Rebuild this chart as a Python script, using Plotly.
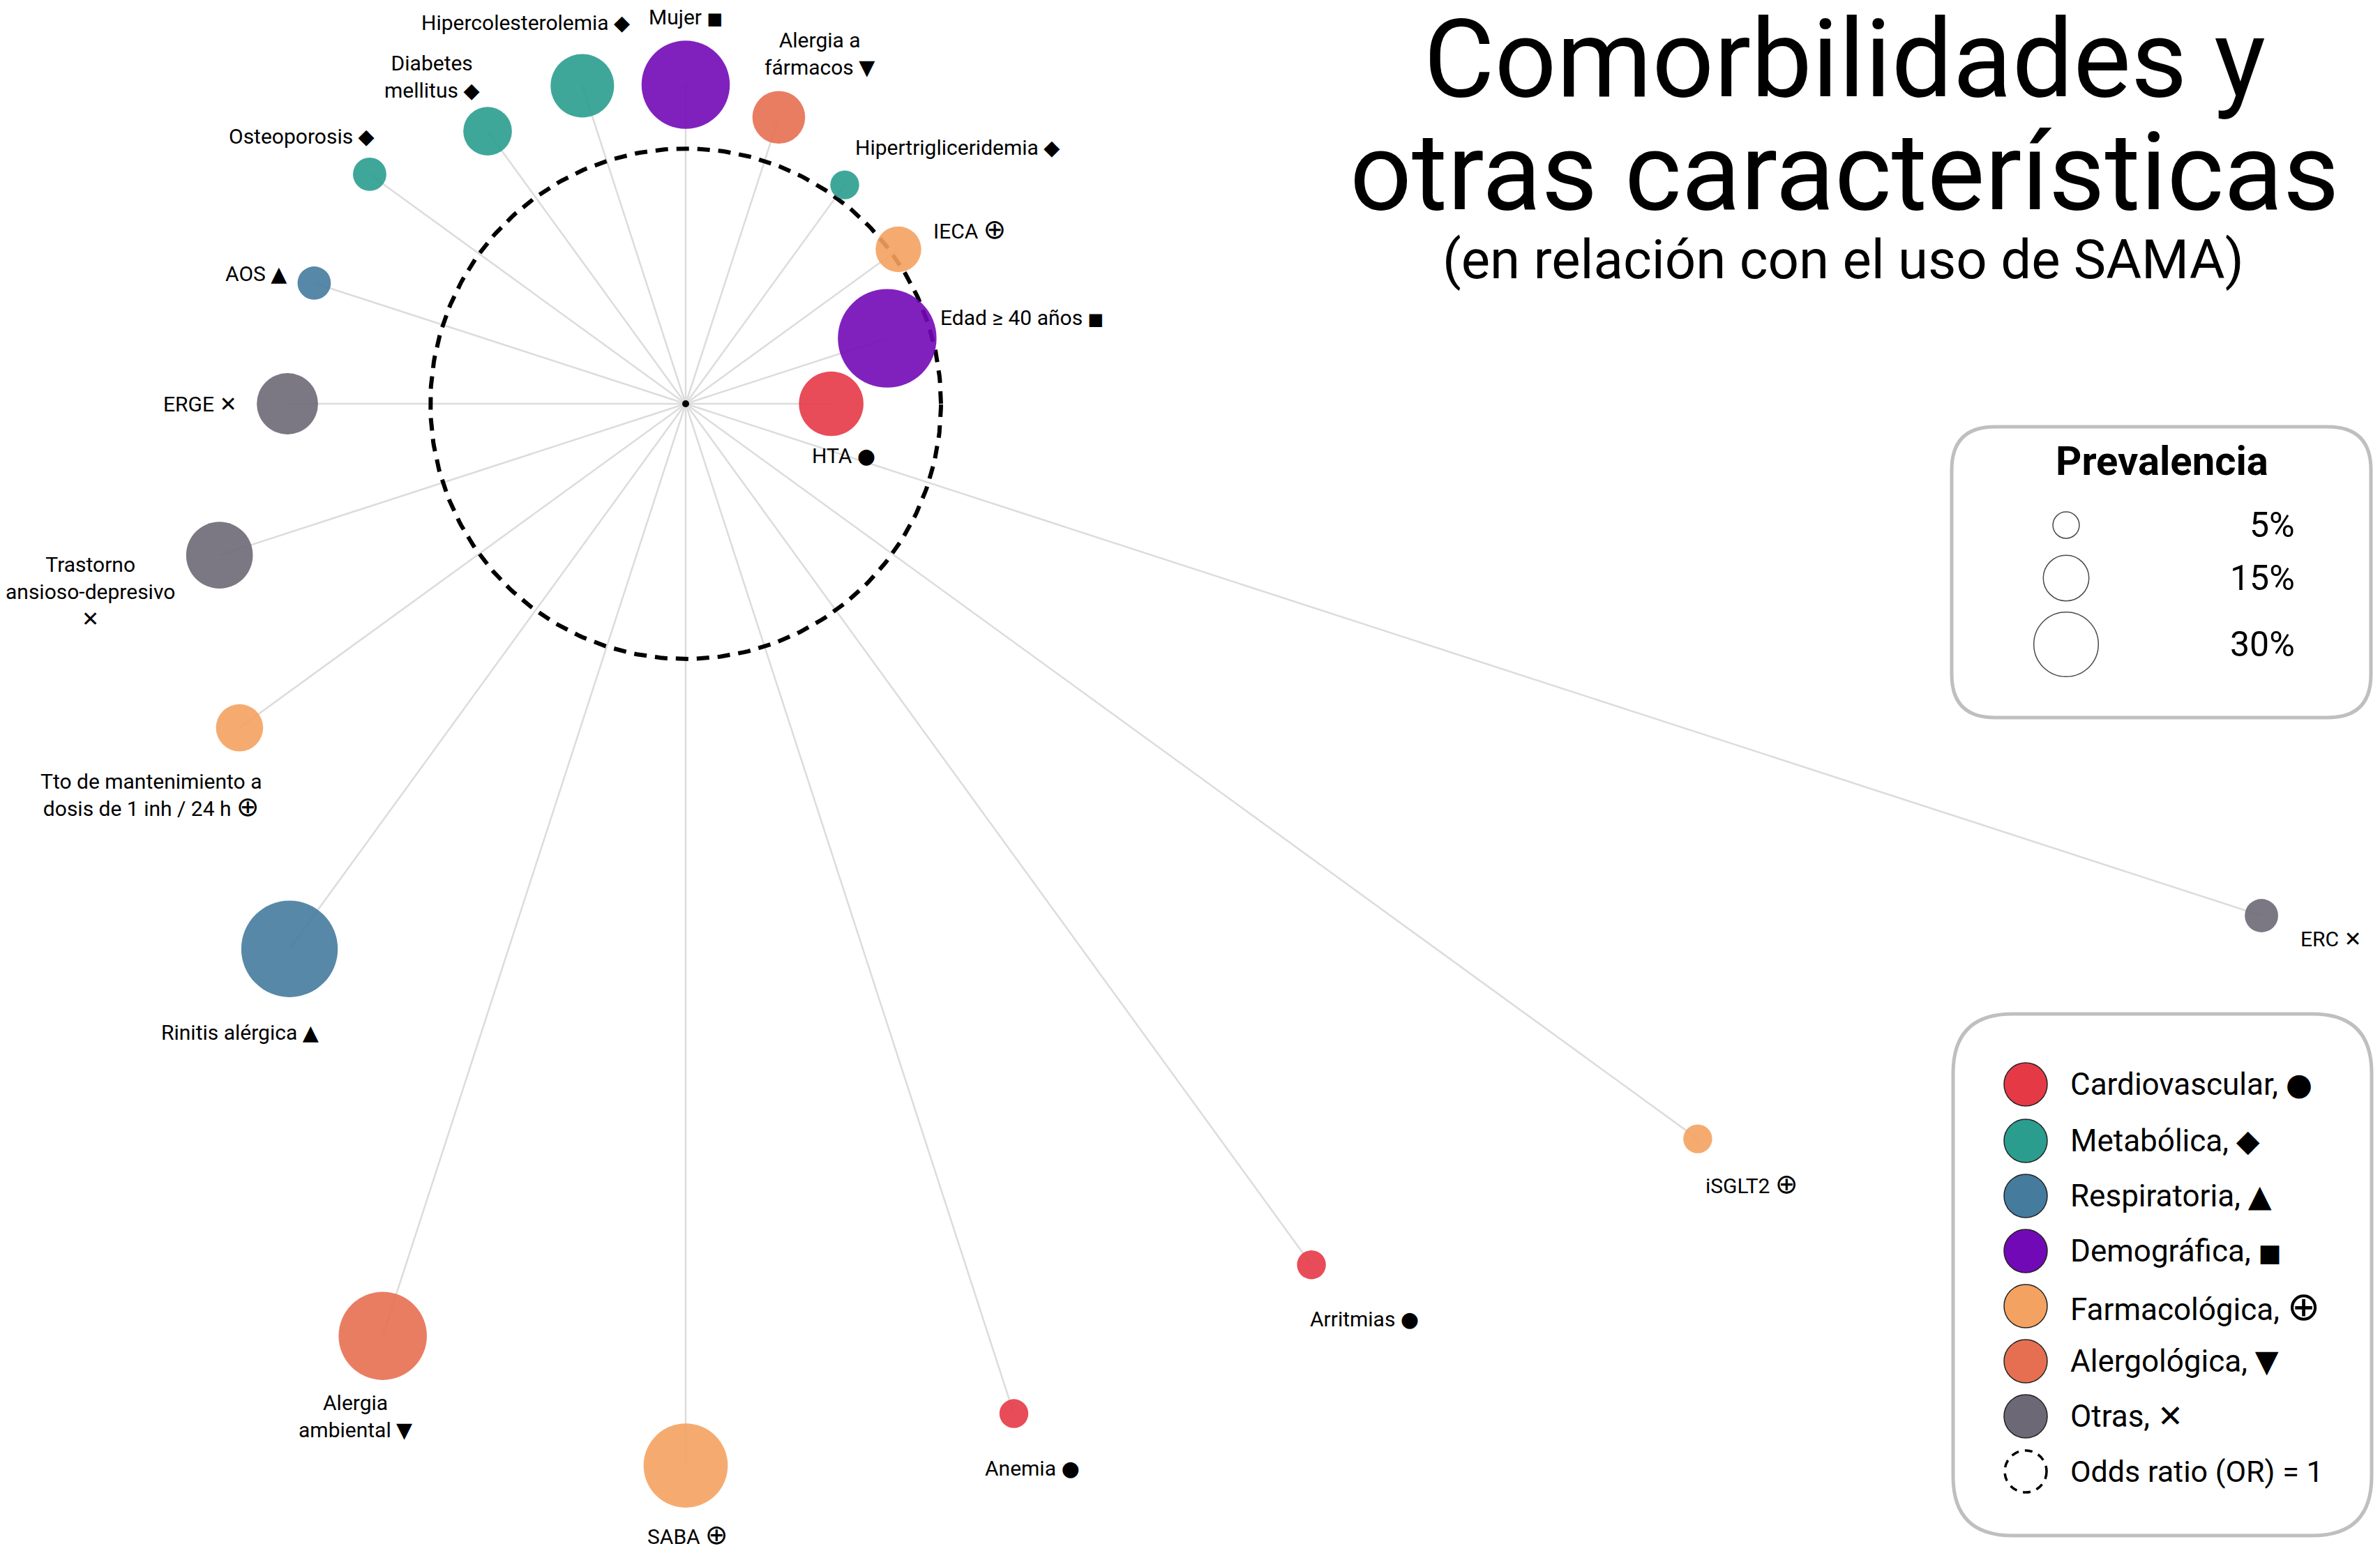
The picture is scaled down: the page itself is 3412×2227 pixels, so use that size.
import numpy as np
import plotly.graph_objects as go

# ---------------- data ----------------
variables = ["HTA", "Edad ≥ 40 años", "IECA", "Hipertrigliceridemia", "Alergia a fármacos",
             "Mujer", "Hipercolesterolemia", "Diabetes mellitus", "Osteoporosis", "AOS",
             "ERGE", "Trastorno ansioso-depresivo", "Tto de mantenimiento a dosis de 1 inh / 24 h",
             "Rinitis alérgica", "Alergia ambiental", "SABA", "Anemia", "Arritmias", "iSGLT2", "ERC"]
display_names = ["HTA", "Edad ≥ 40 años", "IECA", "Hipertrigliceridemia", "Alergia a<br>fármacos",
                 "Mujer", "Hipercolesterolemia", "Diabetes<br>mellitus", "Osteoporosis", "AOS",
                 "ERGE", "Trastorno<br>ansioso-depresivo<br>", "Tto de mantenimiento a<br>dosis de 1 inh / 24 h",
                 "Rinitis alérgica", "Alergia<br>ambiental", "SABA", "Anemia", "Arritmias", "iSGLT2", "ERC"]
category = ["Cardiovascular", "Demográfica", "Farmacológica", "Metabólica", "Alergológica",
            "Demográfica", "Metabólica", "Metabólica", "Metabólica", "Respiratoria",
            "Otras", "Otras", "Farmacológica", "Respiratoria", "Alergológica",
            "Farmacológica", "Cardiovascular", "Cardiovascular", "Farmacológica", "Otras"]
odds_ratio = [0.57, 0.83, 1.03, 1.06, 1.18, 1.25, 1.31, 1.32, 1.53, 1.53,
              1.56, 1.92, 2.16, 2.64, 3.84, 4.16, 4.16, 4.17, 4.90, 6.49]
prevalence = [30, 70, 15, 6, 20, 56, 29, 17, 8, 8,
              27, 32, 16, 67, 56, 51, 6, 6, 6, 8]

cat_names = ["Cardiovascular", "Metabólica", "Respiratoria", "Demográfica",
             "Farmacológica", "Alergológica", "Otras"]
cat_symbols = ["●", "◆", "▲", "■", "⊕", "▼", "✕"]
cat_colors = ["#E63946", "#2A9D8F", "#457B9D", "#7209B7", "#F4A261", "#E76F51", "#6D6875"]

size_legend_values = [5, 15, 30]
size_legend_labels = ["5%", "15%", "30%"]

# ---------------- layout constants (screen pixels) ----------------
SCREEN_W, SCREEN_H = 3412, 2227
PAGE_MARGIN = 8                       # default body margin of the html page
W, H = SCREEN_W - 2 * PAGE_MARGIN, SCREEN_H - 2 * PAGE_MARGIN
CX, CY = 983 - PAGE_MARGIN, 579 - PAGE_MARGIN   # chart centre in figure pixels
PX_PER_OR = 366            # pixels per odds-ratio unit
SIZEREF = 0.0070           # bubble area scale
FONT = "Roboto, 'DejaVu Sans', sans-serif"
LABEL_SIZE = 30
SYMBOL_SCALE = {"⊕": 1.3, "■": 0.8}   # visual size tweak of some glyphs


def sym_markup(sym, base):
    s = SYMBOL_SCALE.get(sym)
    if s is None:
        return sym
    return f'<span style="font-size:{round(base * s)}px">{sym}</span>'


# label placement: (xanchor, dx px, dy px downwards)
label_pos = {
    "HTA": ("left", -30, 74),
    "Edad ≥ 40 años": ("left", 74, -30),
    "IECA": ("left", 48, -28),
    "Hipertrigliceridemia": ("left", 13, -54),
    "Alergia a fármacos": ("center", 59, -91),
    "Mujer": ("center", 0, -97),
    "Hipercolesterolemia": ("right", 70, -91),
    "Diabetes mellitus": ("center", -80, -78),
    "Osteoporosis": ("right", 9, -54),
    "AOS": ("right", -37, -13),
    "ERGE": ("right", -70, 0),
    "Trastorno ansioso-depresivo": ("center", -185, 52),
    "Tto de mantenimiento a dosis de 1 inh / 24 h": ("center", -126, 98),
    "Rinitis alérgica": ("center", -71, 120),
    "Alergia ambiental": ("center", -39, 115),
    "SABA": ("center", 3, 99),
    "Anemia": ("left", -44, 78),
    "Arritmias": ("left", -4, 78),
    "iSGLT2": ("left", 9, 65),
    "ERC": ("left", 54, 33),
}

n = len(variables)
theta = np.deg2rad(np.arange(n) * 360.0 / n)
r = np.array(odds_ratio)
xs = r * np.cos(theta)
ys = r * np.sin(theta)
color_of = dict(zip(cat_names, cat_colors))
symbol_of = dict(zip(cat_names, cat_symbols))
colors = [color_of[c] for c in category]

fig = go.Figure()

# spokes
sx, sy = [], []
for x, y in zip(xs, ys):
    sx += [0, x, None]
    sy += [0, y, None]
fig.add_trace(go.Scatter(x=sx, y=sy, mode="lines",
                         line=dict(color="#DCDCDC", width=2.5), hoverinfo="skip"))

# OR = 1 reference circle
t = np.linspace(0, 2 * np.pi, 400)
fig.add_trace(go.Scatter(x=np.cos(t), y=np.sin(t), mode="lines",
                         line=dict(color="black", width=6, dash="18px,12px"), hoverinfo="skip"))

# centre dot
fig.add_trace(go.Scatter(x=[0], y=[0], mode="markers",
                         marker=dict(size=10, color="black"), hoverinfo="skip"))

# bubbles
fig.add_trace(go.Scatter(x=xs, y=ys, mode="markers",
                         marker=dict(size=prevalence, sizemode="area", sizeref=SIZEREF,
                                     color=colors, opacity=0.9, line=dict(width=0)),
                         text=variables,
                         hovertemplate="%{text}<br>OR=%{customdata[0]}<br>Prev=%{customdata[1]}%<extra></extra>",
                         customdata=np.stack([odds_ratio, prevalence], axis=1)))

# labels
annotations = []
for i, v in enumerate(variables):
    anchor, dx, dy = label_pos[v]
    sym = sym_markup(symbol_of[category[i]], LABEL_SIZE)
    txt = display_names[i]
    txt = txt + sym if txt.endswith("<br>") else txt + " " + sym
    annotations.append(dict(x=xs[i], y=ys[i], xref="x", yref="y", text=txt, showarrow=False,
                            xanchor=anchor, yanchor="middle", xshift=dx, yshift=-dy,
                            align="center", font=dict(family=FONT, size=LABEL_SIZE, color="black")))

# ---------- legends (overlay axes in screen pixels) ----------
prev_y = [753, 829, 924]
fig.add_trace(go.Scatter(x=[2962] * 3, y=prev_y, xaxis="x2", yaxis="y2", mode="markers",
                         marker=dict(size=size_legend_values, sizemode="area", sizeref=SIZEREF,
                                     color="white", line=dict(color="black", width=1.5)),
                         hoverinfo="skip"))
for lab, yy in zip(size_legend_labels, prev_y):
    annotations.append(dict(x=3292, y=yy, xref="x2", yref="y2", text=lab, showarrow=False,
                            xanchor="right", yanchor="middle",
                            font=dict(family=FONT, size=50, color="black")))
annotations.append(dict(x=3099, y=661, xref="x2", yref="y2", text="<b>Prevalencia</b>",
                        showarrow=False, xanchor="center", yanchor="middle",
                        font=dict(family=FONT, size=58, color="black")))

LEG_SIZE = 44
cat_y = [1555, 1636, 1715, 1794, 1873, 1952, 2031]
fig.add_trace(go.Scatter(x=[2904] * len(cat_names), y=cat_y, xaxis="x2", yaxis="y2", mode="markers",
                         marker=dict(size=62, color=cat_colors, line=dict(color="#222222", width=1.5)),
                         hoverinfo="skip"))
for nm, sym, yy in zip(cat_names, cat_symbols, cat_y):
    annotations.append(dict(x=2966, y=yy, xref="x2", yref="y2", text=f"{nm}, {sym_markup(sym, LEG_SIZE)}",
                            showarrow=False, xanchor="left", yanchor="middle",
                            font=dict(family=FONT, size=LEG_SIZE, color="black")))
annotations.append(dict(x=2966, y=2110, xref="x2", yref="y2", text="Odds ratio (OR) = 1", showarrow=False,
                        xanchor="left", yanchor="middle",
                        font=dict(family=FONT, size=43, color="black")))

# title
annotations.append(dict(x=2644, y=84, xref="x2", yref="y2", text="Comorbilidades y", showarrow=False,
                        xanchor="center", yanchor="middle", font=dict(family=FONT, size=156, color="black")))
annotations.append(dict(x=2644, y=246, xref="x2", yref="y2", text="otras características", showarrow=False,
                        xanchor="center", yanchor="middle", font=dict(family=FONT, size=156, color="black")))
annotations.append(dict(x=2642, y=372, xref="x2", yref="y2", text="(en relación con el uso de SAMA)",
                        showarrow=False, xanchor="center", yanchor="middle",
                        font=dict(family=FONT, size=78, color="black")))


def rounded_rect(x0, y0, x1, y1, rad):
    return (f"M {x0+rad},{y0} L {x1-rad},{y0} Q {x1},{y0} {x1},{y0+rad} "
            f"L {x1},{y1-rad} Q {x1},{y1} {x1-rad},{y1} L {x0+rad},{y1} "
            f"Q {x0},{y1} {x0},{y1-rad} L {x0},{y0+rad} Q {x0},{y0} {x0+rad},{y0} Z")


shapes = [
    dict(type="path", xref="x2", yref="y2", path=rounded_rect(2798, 612, 3399, 1029, 62),
         line=dict(color="#BFBFBF", width=5), fillcolor="rgba(0,0,0,0)", layer="below"),
    dict(type="path", xref="x2", yref="y2", path=rounded_rect(2800, 1454, 3400, 2202, 85),
         line=dict(color="#BFBFBF", width=5), fillcolor="rgba(0,0,0,0)", layer="below"),
    dict(type="circle", xref="x2", yref="y2", x0=2904 - 30, x1=2904 + 30, y0=2110 - 30, y1=2110 + 30,
         line=dict(color="black", width=3.5, dash="11px,9px")),
]

fig.update_layout(
    width=W, height=H,
    margin=dict(l=0, r=0, t=0, b=0),
    paper_bgcolor="white", plot_bgcolor="white",
    showlegend=False,
    xaxis=dict(range=[-CX / PX_PER_OR, (W - CX) / PX_PER_OR], visible=False, fixedrange=True),
    yaxis=dict(range=[-(H - CY) / PX_PER_OR, CY / PX_PER_OR], visible=False, fixedrange=True),
    xaxis2=dict(range=[PAGE_MARGIN, PAGE_MARGIN + W], overlaying="x", visible=False, fixedrange=True),
    yaxis2=dict(range=[PAGE_MARGIN + H, PAGE_MARGIN], overlaying="y", visible=False, fixedrange=True),
    annotations=annotations,
    shapes=shapes,
)

fig.write_html("out.html")
